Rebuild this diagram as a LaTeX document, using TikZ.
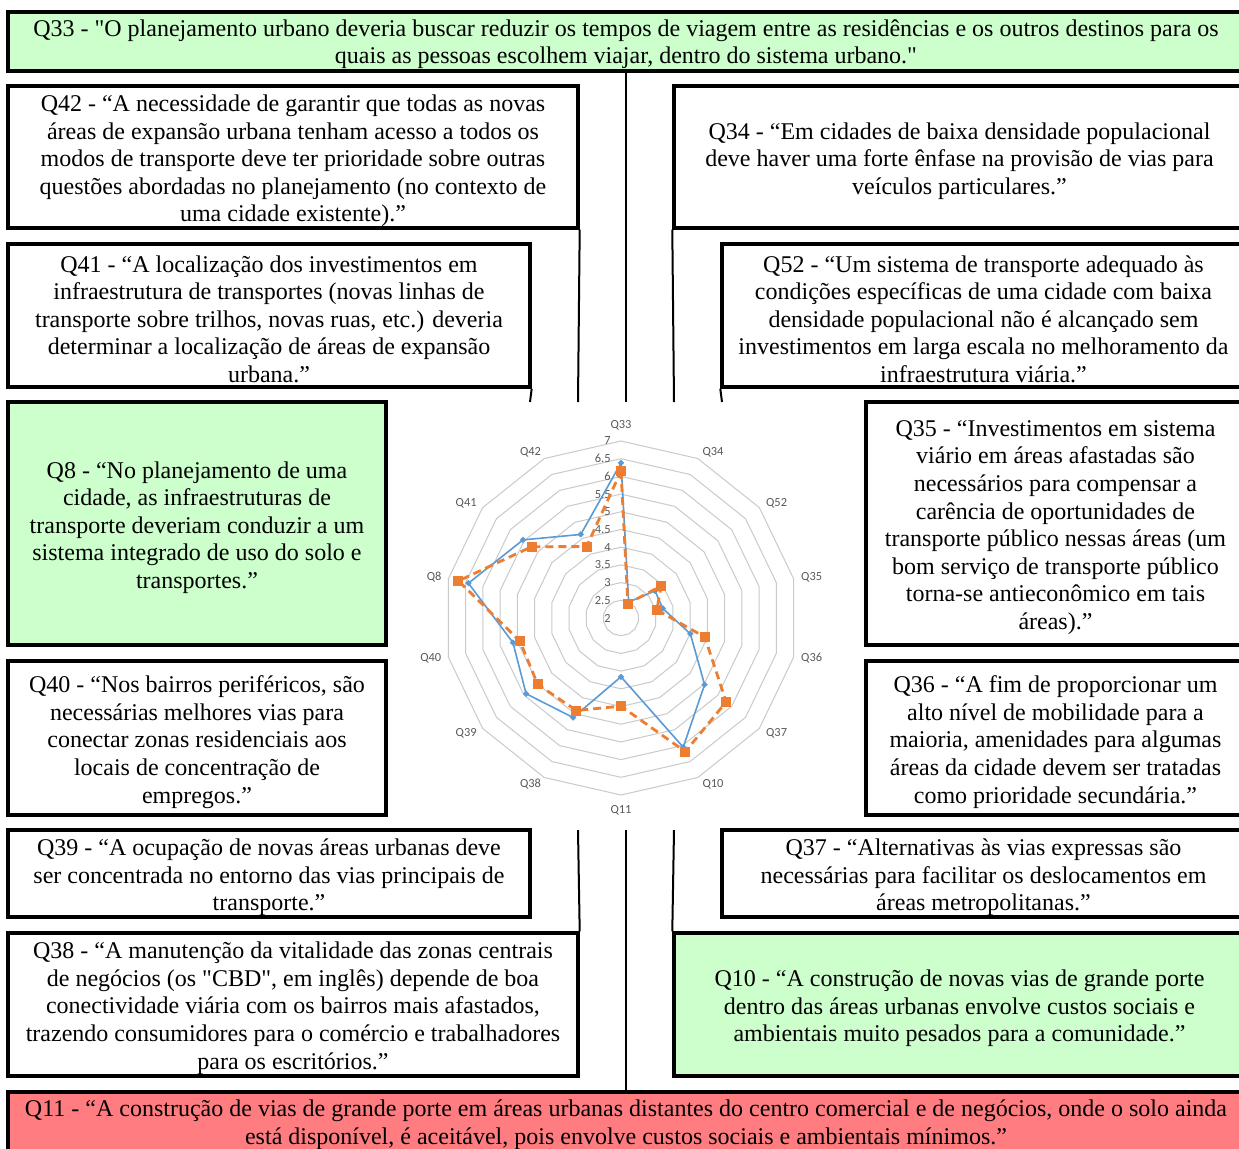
\documentclass[tikz,border=0pt]{standalone}
\usepackage{fontspec}
\setmainfont{Liberation Serif}[Ligatures=TeXOff]
\newfontfamily\chartfont{Carlito}
\usetikzlibrary{shapes.geometric}
\definecolor{boxgreen}{HTML}{CCFFCC}
\definecolor{boxred}{HTML}{FF7C80}
\definecolor{serblue}{HTML}{5B9BD5}
\definecolor{serorange}{HTML}{ED7D31}
\definecolor{gridgrey}{HTML}{CACACA}
\definecolor{labgrey}{HTML}{595959}
\tikzset{
 qbox/.style={draw=black, line width=1.7pt, fill=white, inner sep=0pt},
 greenbox/.style={qbox, fill=boxgreen},
 redbox/.style={qbox, fill=boxred},
 qtext/.style={inner sep=0pt, align=center, font=\fontsize{12}{13.8}\selectfont},
 link/.style={draw=black, line width=1pt},
 gridring/.style={draw=gridgrey, line width=0.5pt},
 blueser/.style={draw=serblue, line width=0.8pt, line join=round},
 orangeser/.style={draw=serorange, line width=1.4pt, dash pattern=on 4pt off 2.5pt, line join=round},
 bmark/.style={diamond, fill=serblue, inner sep=0pt, minimum size=3.4pt},
 omark/.style={rectangle, fill=serorange, inner sep=0pt, minimum size=5pt},
 axlab/.style={font=\chartfont\fontsize{6.2}{7}\selectfont, text=labgrey, inner sep=0pt},
}
\begin{document}
\begin{tikzpicture}[x=0.5pt, y=-0.5pt]
\useasboundingbox (0,0) rectangle (1239,1148);
\fill[white] (0,0) rectangle (1239,1148);

% connector end points
\coordinate (t530) at (530,402);
\coordinate (t578) at (578,402);
\coordinate (t626) at (626,402);
\coordinate (t674) at (674,402);
\coordinate (t722) at (722,402);
\coordinate (b578) at (578,830);
\coordinate (b626) at (626,830);
\coordinate (b674) at (674,830);

% boxes
\node[greenbox, minimum width=618pt, minimum height=29.5pt] (q33) at (626,41.5) {};
\node[qbox, minimum width=285pt, minimum height=71pt] (q42) at (293,157) {};
\node[qbox, minimum width=285.5pt, minimum height=71pt] (q34) at (959.5,157) {};
\node[qbox, minimum width=261pt, minimum height=71.5pt] (q41) at (269,315.5) {};
\node[qbox, minimum width=261.5pt, minimum height=71.5pt] (q52) at (983.5,315.5) {};
\node[greenbox, minimum width=189pt, minimum height=121.5pt] (q8) at (197,523.5) {};
\node[qbox, minimum width=189.5pt, minimum height=121.5pt] (q35) at (1055.5,523.5) {};
\node[qbox, minimum width=189pt, minimum height=77pt] (q40) at (197,738) {};
\node[qbox, minimum width=189.5pt, minimum height=77pt] (q36) at (1055.5,738) {};
\node[qbox, minimum width=261pt, minimum height=43.5pt] (q39) at (269,873.5) {};
\node[qbox, minimum width=261.5pt, minimum height=43.5pt] (q37) at (983.5,873.5) {};
\node[qbox, minimum width=285pt, minimum height=71.5pt] (q38) at (293,1004.5) {};
\node[greenbox, minimum width=285.5pt, minimum height=71.5pt] (q10) at (959.5,1004.5) {};
\node[redbox, minimum width=618pt, minimum height=30pt] (q11) at (626,1122) {};

% box texts
\node[qtext] (q33t) at ([yshift=-1.4pt]q33.center) {Q33 - "O planejamento urbano deveria buscar reduzir os tempos de viagem entre as residências e os outros destinos para os\\quais as pessoas escolhem viajar, dentro do sistema urbano."};
\node[qtext] (q42t) at ([yshift=-2pt]q42.center) {Q42 - “A necessidade de garantir que todas as novas\\áreas de expansão urbana tenham acesso a todos os\\modos de transporte deve ter prioridade sobre outras\\questões abordadas no planejamento (no contexto de\\uma cidade existente).”};
\node[qtext] (q34t) at ([yshift=-2pt]q34.center) {Q34 - “Em cidades de baixa densidade populacional\\deve haver uma forte ênfase na provisão de vias para\\veículos particulares.”};
\node[qtext] (q41t) at ([yshift=-1.8pt]q41.center) {Q41 - “A localização dos investimentos em\\infraestrutura de transportes (novas linhas de\\transporte sobre trilhos, novas ruas, etc.) deveria\\determinar a localização de áreas de expansão\\urbana.”};
\node[qtext] (q52t) at ([yshift=-1.8pt]q52.center) {Q52 - “Um sistema de transporte adequado às\\condições específicas de uma cidade com baixa\\densidade populacional não é alcançado sem\\investimentos em larga escala no melhoramento da\\infraestrutura viária.”};
\node[qtext] (q8t) at ([yshift=-2pt]q8.center) {Q8 - “No planejamento de uma\\cidade, as infraestruturas de\\transporte deveriam conduzir a um\\sistema integrado de uso do solo e\\transportes.”};
\node[qtext] (q35t) at ([yshift=-2pt]q35.center) {Q35 - “Investimentos em sistema\\viário em áreas afastadas são\\necessários para compensar a\\carência de oportunidades de\\transporte público nessas áreas (um\\bom serviço de transporte público\\torna-se antieconômico em tais\\áreas).”};
\node[qtext] (q40t) at ([yshift=-2pt]q40.center) {Q40 - “Nos bairros periféricos, são\\necessárias melhores vias para\\conectar zonas residenciais aos\\locais de concentração de\\empregos.”};
\node[qtext] (q36t) at ([yshift=-2pt]q36.center) {Q36 - “A fim de proporcionar um\\alto nível de mobilidade para a\\maioria, amenidades para algumas\\áreas da cidade devem ser tratadas\\como prioridade secundária.”};
\node[qtext] (q39t) at ([yshift=-2pt]q39.center) {Q39 - “A ocupação de novas áreas urbanas deve\\ser concentrada no entorno das vias principais de\\transporte.”};
\node[qtext] (q37t) at ([yshift=-2pt]q37.center) {Q37 - “Alternativas às vias expressas são\\necessárias para facilitar os deslocamentos em\\áreas metropolitanas.”};
\node[qtext] (q38t) at ([yshift=-1.8pt]q38.center) {Q38 - “A manutenção da vitalidade das zonas centrais\\de negócios (os "CBD", em inglês) depende de boa\\conectividade viária com os bairros mais afastados,\\trazendo consumidores para o comércio e trabalhadores\\para os escritórios.”};
\node[qtext] (q10t) at ([yshift=-2pt]q10.center) {Q10 - “A construção de novas vias de grande porte\\dentro das áreas urbanas envolve custos sociais e\\ambientais muito pesados para a comunidade.”};
\node[qtext] (q11t) at ([yshift=-1.4pt]q11.center) {Q11 - “A construção de vias de grande porte em áreas urbanas distantes do centro comercial e de negócios, onde o solo ainda\\está disponível, é aceitável, pois envolve custos sociais e ambientais mínimos.”};

% connectors
\draw[link] (q41.south east) -- (t530);
\draw[link] (q42.south east) -- (t578);
\draw[link] (q33.south) -- (t626);
\draw[link] (q34.south west) -- (t674);
\draw[link] (q52.south west) -- (t722);
\draw[link] (b578) -- (q38.north east);
\draw[link] (b626) -- (q11.north);
\draw[link] (b674) -- (q10.north west);

% radar chart: category labels
\foreach \lab/\px/\py in {Q33/621/425, Q34/713/451.8, Q52/776.6/503, Q35/811.7/577.4, Q36/811.7/658.4, Q37/776.6/733, Q10/713/784.3, Q11/621/810, Q38/530.5/784.3, Q39/466.2/733, Q40/430.8/658.4, Q8/434.1/577.4, Q41/466.2/503, Q42/530.5/451.8}
  \node[axlab] (al\lab) at (\px,\py) {\lab};

\begin{scope}[shift={(621,618)}, y=0.5pt]
 \foreach \k in {1,...,10}{
   \draw[gridring] (90:{\k*17.7}) \foreach \i in {1,...,13}{ -- ({90-\i*360/14}:{\k*17.7}) } -- cycle;
 }
 \foreach \lab [count=\k from 0] in {2,2.5,3,3.5,4,4.5,5,5.5,6,6.5,7}
   \node[axlab, anchor=east] (vl\k) at (-10,{\k*17.7}) {\lab};
 \draw[blueser] (90:{(6.38-2)*35.4}) \foreach \v [count=\i] in {2.5,3.23,3.21,4.01,5.02,6.05,3.66,5.12,5.43,5.13,6.42,5.54,4.62}{ -- ({90-\i*360/14}:{(\v-2)*35.4}) } -- cycle;
 \foreach \v [count=\i from 0] in {6.38,2.5,3.23,3.21,4.01,5.02,6.05,3.66,5.12,5.43,5.13,6.42,5.54,4.62}
   \node[bmark] (bm\i) at ({90-\i*360/14}:{(\v-2)*35.4}) {};
 \draw[orangeser] (90:{(6.15-2)*35.4}) \foreach \v [count=\i] in {2.45,3.45,3.04,4.43,5.80,6.19,4.49,4.90,5.01,4.93,6.71,5.23,4.24}{ -- ({90-\i*360/14}:{(\v-2)*35.4}) } -- cycle;
 \foreach \v [count=\i from 0] in {6.15,2.45,3.45,3.04,4.43,5.80,6.19,4.49,4.90,5.01,4.93,6.71,5.23,4.24}
   \node[omark] (om\i) at ({90-\i*360/14}:{(\v-2)*35.4}) {};
\end{scope}
\end{tikzpicture}
\end{document}
